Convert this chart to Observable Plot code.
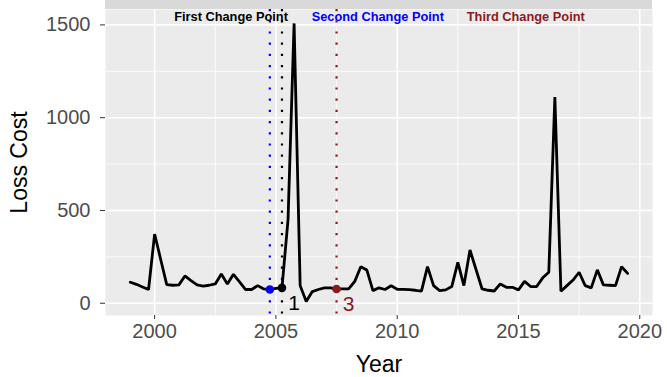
<!DOCTYPE html>
<html>
<head>
<meta charset="utf-8">
<script src="https://cdn.jsdelivr.net/npm/d3@7"></script>
<script src="https://cdn.jsdelivr.net/npm/@observablehq/plot@0.6"></script>
<style>
  html, body { margin: 0; padding: 0; background: white; }
</style>
</head>
<body>
<div id="chart"></div>
<script>
// ---- data ----
const years = [
  1999.00, 1999.25, 1999.50, 1999.75,
  2000.00, 2000.25, 2000.50, 2000.75,
  2001.00, 2001.25, 2001.50, 2001.75,
  2002.00, 2002.25, 2002.50, 2002.75,
  2003.00, 2003.25, 2003.50, 2003.75,
  2004.00, 2004.25, 2004.50, 2004.75,
  2005.00, 2005.25, 2005.50, 2005.75,
  2006.00, 2006.25, 2006.50, 2006.75,
  2007.00, 2007.25, 2007.50, 2007.75,
  2008.00, 2008.25, 2008.50, 2008.75,
  2009.00, 2009.25, 2009.50, 2009.75,
  2010.00, 2010.25, 2010.50, 2010.75,
  2011.00, 2011.25, 2011.50, 2011.75,
  2012.00, 2012.25, 2012.50, 2012.75,
  2013.00, 2013.25, 2013.50, 2013.75,
  2014.00, 2014.25, 2014.50, 2014.75,
  2015.00, 2015.25, 2015.50, 2015.75,
  2016.00, 2016.25, 2016.50, 2016.75,
  2017.00, 2017.25, 2017.50, 2017.75,
  2018.00, 2018.25, 2018.50, 2018.75,
  2019.00, 2019.25, 2019.50
];
const lossCost = [
  113, 102, 88, 74,
  373, 236, 100, 97,
  99, 147, 122, 99,
  92, 97, 104, 158,
  104, 156, 115, 74,
  74, 95, 77, 74,
  80, 83, 450, 1508,
  95, 9, 63, 74,
  83, 83, 77, 77,
  77, 118, 197, 179,
  68, 83, 74, 94,
  75, 75, 73, 70,
  65, 197, 95, 68,
  72, 90, 220, 95,
  287, 182, 77, 70,
  66, 104, 86, 86,
  72, 118, 90, 90,
  137, 167, 1111, 65,
  95, 125, 167, 95,
  83, 180, 99, 97,
  95, 197, 161
];

// change points
const cpNames  = ["First Change Point", "Second Change Point", "Third Change Point"];
const cpYears  = [2005.25, 2004.75, 2007.5];
const cpColors = ["#000000", "#0000FF", "#8B1A1A"];
const cpNumber = ["1", "", "3"];
const cpTitleX = [2003.15, 2009.2, 2015.3];
const cpTitleY = 1545;

// axis ticks
const xTicks = [2000, 2005, 2010, 2015, 2020];
const xMinor = [2002.5, 2007.5, 2012.5, 2017.5];
const yTicks = [0, 500, 1000, 1500];
const yMinor = [250, 750, 1250];

// ---- build tables ----
const series = years.map((y, i) => ({year: y, value: lossCost[i]}));
const valueAt = yr => series.find(d => Math.abs(d.year - yr) < 1e-6).value;
const cps = cpNames.map((n, i) => ({
  name: n, year: cpYears[i], value: valueAt(cpYears[i]),
  color: cpColors[i], num: cpNumber[i], tx: cpTitleX[i]
}));

const font = "'Liberation Sans', Arial, Helvetica, sans-serif";

const chart = Plot.plot({
  width: 667,
  height: 377,
  marginLeft: 105,
  marginRight: 15,
  marginTop: 9,
  marginBottom: 62,
  style: {fontFamily: font, background: "white"},
  x: {domain: [1997.975, 2020.525], label: null},
  y: {domain: [-66, 1583], label: null},
  marks: [
    Plot.frame({fill: "#EBEBEB", stroke: null}),
    Plot.gridX(xMinor, {stroke: "white", strokeOpacity: 1, strokeWidth: 0.8}),
    Plot.gridY(yMinor, {stroke: "white", strokeOpacity: 1, strokeWidth: 0.8}),
    Plot.gridX(xTicks, {stroke: "white", strokeOpacity: 1, strokeWidth: 1.6}),
    Plot.gridY(yTicks, {stroke: "white", strokeOpacity: 1, strokeWidth: 1.6}),
    Plot.axisX(xTicks, {tickSize: 4, tickPadding: 4, fontSize: 20, stroke: "#333333", fill: "#4D4D4D", tickFormat: d => String(d), label: null}),
    Plot.axisY(yTicks, {tickSize: 5, tickPadding: 10, fontSize: 20, stroke: "#333333", fill: "#4D4D4D", tickFormat: d => String(d), label: null}),
    Plot.ruleX(cps, {x: "year", stroke: "color", strokeWidth: 2.2, strokeDasharray: "2.2,9"}),
    Plot.line(series, {x: "year", y: "value", stroke: "black", strokeWidth: 2.8, strokeLinejoin: "miter"}),
    Plot.dot(cps, {x: "year", y: "value", fill: "color", stroke: null, r: 4.3}),
    Plot.text(cps, {x: "year", y: "value", text: "num", fill: "color", fontSize: 21, dx: 12, dy: 15}),
    Plot.text(cps, {x: "tx", y: () => cpTitleY, text: "name", fill: "color", fontSize: 12.8, fontWeight: "bold"}),
    Plot.text(["Year"], {frameAnchor: "bottom", dy: 56, fontSize: 23, fill: "black", lineAnchor: "bottom"}),
    Plot.text(["Loss Cost"], {frameAnchor: "left", textAnchor: "middle", dx: -86, rotate: -90, fontSize: 23, fill: "black"})
  ]
});

// top strip above the panel
const sx = chart.scale("x"), sy = chart.scale("y");
d3.select(chart).insert("rect", ":first-child")
  .attr("x", sx.range[0]).attr("y", 0)
  .attr("width", sx.range[1] - sx.range[0])
  .attr("height", sy.range[1])
  .attr("fill", "#D9D9D9");

document.getElementById("chart").appendChild(chart);
</script>
</body>
</html>
